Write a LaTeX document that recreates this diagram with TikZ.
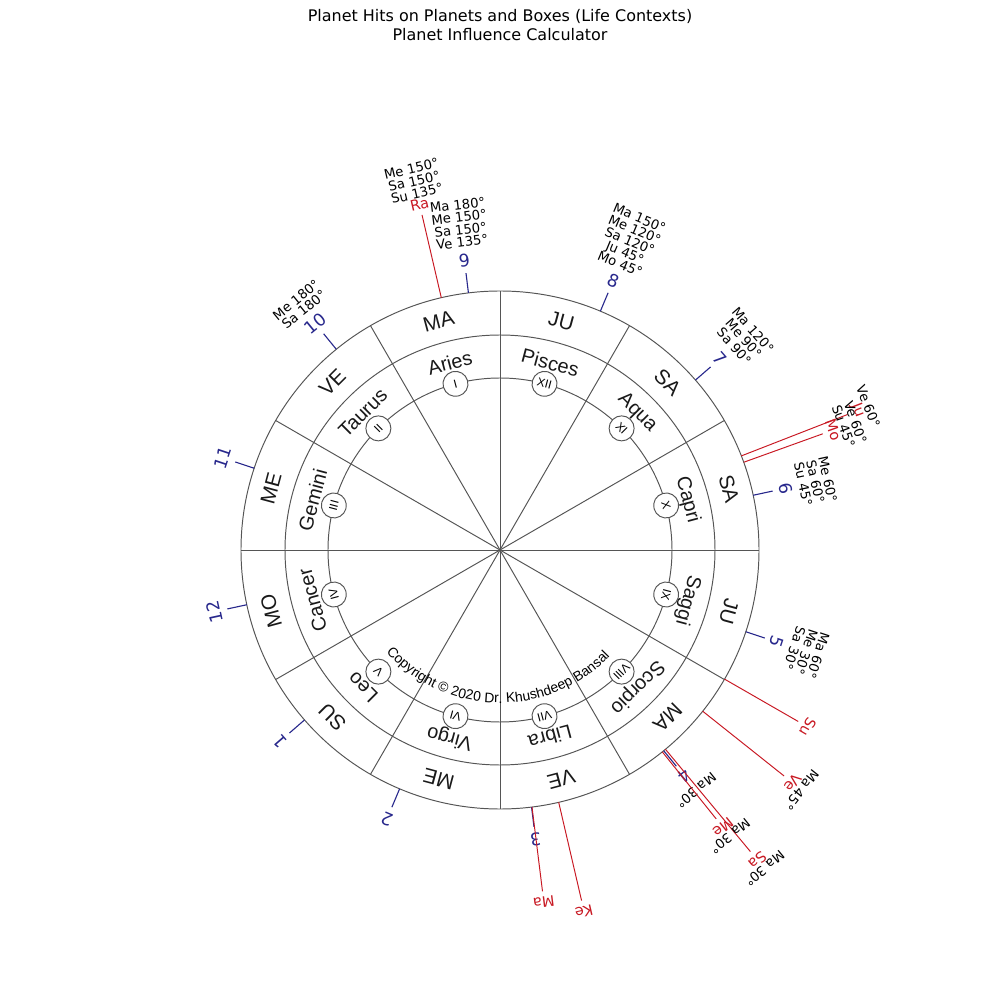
\documentclass[tikz,border=0pt]{standalone}
\usepackage{fontspec}
\setmainfont{DejaVu Sans}
\newfontfamily\arialfont{Liberation Sans}
\usetikzlibrary{decorations.text}

\definecolor{wheelgray}{RGB}{85,85,85}
\definecolor{cuspblue}{RGB}{40,40,140}
\definecolor{planetred}{RGB}{200,25,35}
\newcommand\copyfont{\arialfont\fontsize{10}{12}\selectfont}

\begin{document}
\begin{tikzpicture}[x=0.72pt, y=0.72pt,
    wheel/.style={draw=wheelgray, line width=0.7pt},
    lordtxt/.style={font=\arialfont\fontsize{15}{18}\selectfont, text=black!90, inner sep=0pt},
    signtxt/.style={font=\arialfont\fontsize{14.3}{16}\selectfont, text=black!90, inner sep=0pt},
    romanbox/.style={circle, draw=wheelgray, fill=white, line width=0.7pt, minimum size=18pt, inner sep=0pt, font=\arialfont\fontsize{8.5}{9}\selectfont},
    cusptick/.style={draw=cuspblue, line width=0.8pt},
    cuspnum/.style={text=cuspblue, font=\fontsize{12.5}{14}\selectfont, inner sep=0pt},
    hitlist/.style={align=center, font=\fontsize{9.5}{9}\selectfont, inner sep=0pt, anchor=south},
    planetline/.style={draw=planetred, line width=0.7pt},
    planetlbl/.style={text=planetred, font=\fontsize{10.5}{12}\selectfont, inner sep=0pt}]
        % Radii of the three rings
        \def\rout{259}
        \def\rmid{215}
        \def\rin{172}

        \useasboundingbox (-500,-450) rectangle (500,550);

        % Title
        \node[align=center, font=\fontsize{11.5}{13.7}\selectfont] (title) at (0,525) {Planet Hits on Planets and Boxes (Life Contexts)\\Planet Influence Calculator};

        % Rings and spokes
        \coordinate (ctr) at (0,0);
        \foreach \k in {0,...,11} {
          \coordinate (spoke\k) at (\k*30:\rout);
          \draw[wheel] (ctr) -- (spoke\k);
        }
        \draw[wheel] (ctr) circle[radius=\rout];
        \draw[wheel] (ctr) circle[radius=\rmid];
        \draw[wheel] (ctr) circle[radius=\rin];

        % Lords, signs and box numbers
        \foreach \k/\lord/\sign/\rn in {1/MA/Aries/I, 2/VE/Taurus/II, 3/ME/Gemini/III, 4/MO/Cancer/IV,
                                        5/SU/Leo/V, 6/ME/Virgo/VI, 7/VE/Libra/VII, 8/MA/Scorpio/VIII,
                                        9/JU/Saggi/IX, 10/SA/Capri/X, 11/SA/Aqua/XI, 12/JU/Pisces/XII} {
          \pgfmathsetmacro\ang{75+30*\k}
          \node[lordtxt, rotate=\ang-90] (lord\k) at (\ang:237) {\lord};
          \node[signtxt, rotate=\ang-90] (sign\k) at (\ang:194) {\sign};
          \node[romanbox, rotate=\ang-90] (box\k) at (\ang:\rin) {\rn};
        }

        % Copyright along the inner circle
        \path[decorate, decoration={text along path, text align=center,
              text={|\copyfont|Copyright © 2020 Dr. Khushdeep Bansal}}]
          (-150:153) arc[start angle=-150, end angle=-32, radius=153];

        % House cusps
        \foreach \h/\ang in {1/-139.0, 2/-112.8, 3/-83.0, 4/-50.8, 5/-18.4, 6/12.2,
                             7/41.0, 8/67.2, 9/97.0, 10/129.2, 11/161.6, 12/-167.8} {
          \coordinate (cusp\h) at (\ang:\rout);
          \coordinate (tick\h) at (\ang:279);
          \draw[cusptick] (cusp\h) -- (tick\h);
          \node[cuspnum, rotate=\ang-90] (h\h) at (\ang:292) {\h};
        }

        % Hits on the cusps
        \foreach \h/\ang/\txt in {9/97.0/{Ma 180°\\Me 150°\\Sa 150°\\Ve 135°},
                                  8/67.2/{Ma 150°\\Me 120°\\Sa 120°\\Ju 45°\\Mo 45°},
                                  7/41.0/{Ma 120°\\Me 90°\\Sa 90°},
                                  6/12.2/{Me 60°\\Sa 60°\\Su 45°},
                                  5/-18.4/{Ma 60°\\Me 30°\\Sa 30°},
                                  4/-50.8/{Ma 30°},
                                  10/129.2/{Me 180°\\Sa 180°}} {
          \node[hitlist, rotate=\ang-90] (hits\h) at (\ang:305) {\txt};
        }

        % Planets
        \foreach \p/\ang/\lr in {Ra/103.1/355, Ke/-76.9/371, Ma/-82.9/355, Su/-29.9/355, Ve/-38.5/374,
                                 Me/-51.2/356, Sa/-50.3/403, Ju/21.3/384, Mo/19.8/354} {
          \pgfmathsetmacro\re{\lr-11}
          \coordinate (\p-in) at (\ang:\rout);
          \coordinate (\p-out) at (\ang:\re);
          \draw[planetline] (\p-in) -- (\p-out);
          \node[planetlbl, rotate=\ang-90] (\p) at (\ang:\lr) {\p};
        }

        % Hits on the planets
        \foreach \p/\ang/\lr/\txt in {Ra/103.1/355/{Me 150°\\Sa 150°\\Su 135°},
                                      Ju/21.3/384/{Ve 60°},
                                      Mo/19.8/354/{Ve 60°\\Su 45°},
                                      Ve/-38.5/374/{Ma 45°},
                                      Me/-51.2/356/{Ma 30°},
                                      Sa/-50.3/403/{Ma 30°}} {
          \pgfmathsetmacro\rh{\lr+6}
          \node[hitlist, rotate=\ang-90] (phits\p) at (\ang:\rh) {\txt};
        }
      \end{tikzpicture}
\end{document}
